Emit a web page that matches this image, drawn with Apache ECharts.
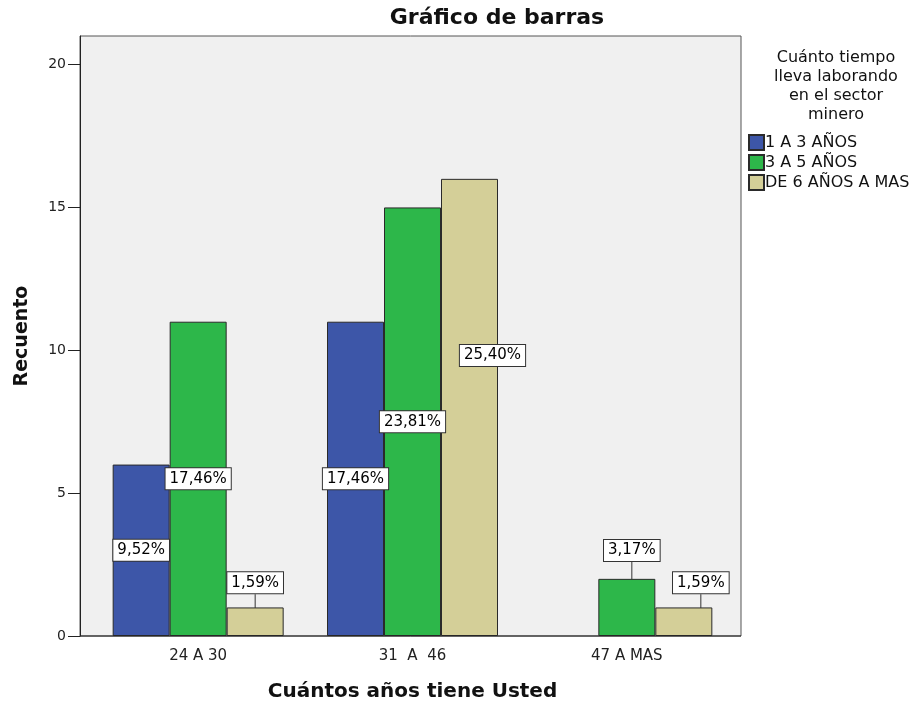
<!DOCTYPE html>
<html>
<head>
<meta charset="utf-8">
<script src="https://cdn.jsdelivr.net/npm/echarts@6/dist/echarts.min.js"></script>
<style>
  html, body { margin: 0; padding: 0; background: #fff; }
  #chart { width: 921px; height: 703px; }
</style>
</head>
<body>
<div id="chart"></div>
<script>
// categorias y valores
var categories = ['24 A 30', '31  A  46', '47 A MAS'];
var seriesNames = ['1 A 3 AÑOS', '3 A 5 AÑOS', 'DE 6 AÑOS A MAS'];
var counts1 = [6, 11, null];
var counts2 = [11, 15, 2];
var counts3 = [1, 16, 1];
var pct1 = ['9,52%', '17,46%', ''];
var pct2 = ['17,46%', '23,81%', '3,17%'];
var pct3 = ['1,59%', '25,40%', '1,59%'];
var yTicks = [0, 5, 10, 15, 20];

var colors = ['#3d56a8', '#2db74a', '#d4cf98'];
// desplazamiento de etiquetas (estilo, no datos)
var labelShift = [
  [[0, 0], [0, 0], [0, 0]],
  [[0, 0], [0, 0], [5, -57]],
  [[0, -39], [23, -52], [17, -39]]
];
var withLine = [[false, false, false], [false, false, true], [true, false, true]];

var font = 'DejaVu Sans, Arial, sans-serif';

var chartDom = document.getElementById('chart');
var myChart = echarts.init(chartDom);

function buildData(values, pcts, s) {
  return values.map(function (v, i) {
    return {
      value: v,
      pct: pcts[i],
      labelLine: { show: withLine[s][i], lineStyle: { color: '#333', width: 1 } }
    };
  });
}

function makeSeries(name, values, pcts, s) {
  return {
    name: name,
    type: 'bar',
    barWidth: 57,
    barGap: '0%',
    data: buildData(values, pcts, s),
    itemStyle: { color: colors[s], borderColor: '#2a2a2a', borderWidth: 1 },
    label: {
      show: true,
      position: 'inside',
      formatter: function (p) { return p.data.pct; },
      color: '#000',
      fontFamily: font,
      fontSize: 15,
      backgroundColor: '#fff',
      borderColor: '#333',
      borderWidth: 1,
      padding: [4, 4, 2, 4]
    },
    labelLayout: function (p) {
      var d = labelShift[s][p.dataIndex];
      return { dx: d[0], dy: d[1] };
    },
    emphasis: { disabled: true }
  };
}

var option = {
  animation: false,
  color: colors,
  title: [
    {
      text: 'Gráfico de barras',
      left: 492,
      top: 2,
      textAlign: 'center',
      textStyle: { fontFamily: font, fontSize: 22, fontWeight: 'bold', color: '#111' }
    },
    {
      text: 'Cuánto tiempo\nlleva laborando\nen el sector\nminero',
      left: 831,
      top: 43,
      textAlign: 'center',
      textStyle: { fontFamily: font, fontSize: 16, fontWeight: 'normal', color: '#111', lineHeight: 19 }
    }
  ],
  legend: {
    orient: 'vertical',
    left: 748,
    top: 134,
    padding: 0,
    itemWidth: 15,
    itemHeight: 15,
    itemGap: 3,
    icon: 'rect',
    selectedMode: false,
    data: seriesNames,
    textStyle: { fontFamily: font, fontSize: 16, color: '#111', padding: [0, 0, 0, -4] }
  },
  // marco del area de trazado
  graphic: [
    {
      type: 'rect',
      z: -10,
      shape: { x: 80, y: 36, width: 661, height: 600 },
      style: { fill: '#f0f0f0', stroke: '#555', lineWidth: 1 }
    },
    {
      type: 'line',
      z: 10,
      shape: { x1: 80, y1: 636, x2: 741, y2: 636 },
      style: { stroke: '#222', lineWidth: 1 }
    }
  ],
  grid: {
    left: 91,
    right: 187,
    top: 36,
    bottom: 67,
    outerBoundsMode: 'none',
    show: false
  },
  xAxis: {
    type: 'category',
    data: categories,
    name: 'Cuántos años tiene Usted',
    nameLocation: 'middle',
    nameGap: 46,
    nameTextStyle: { fontFamily: font, fontSize: 20, fontWeight: 'bold', color: '#111' },
    axisLine: { show: false },
    axisTick: { alignWithLabel: true, length: 9, lineStyle: { color: '#222' } },
    axisLabel: { fontFamily: font, fontSize: 15, color: '#222', margin: 13 }
  },
  yAxis: {
    type: 'value',
    min: 0,
    max: 21,
    interval: 5,
    offset: 11,
    name: 'Recuento',
    nameLocation: 'middle',
    nameGap: 48,
    nameTextStyle: { fontFamily: font, fontSize: 19, fontWeight: 'bold', color: '#111' },
    axisLine: { show: true, lineStyle: { color: '#222' } },
    axisTick: { show: true, length: 12, customValues: yTicks, lineStyle: { color: '#222' } },
    axisLabel: { fontFamily: font, fontSize: 14, color: '#222', margin: 14, customValues: yTicks },
    splitLine: { show: false }
  },
  series: [
    makeSeries(seriesNames[0], counts1, pct1, 0),
    makeSeries(seriesNames[1], counts2, pct2, 1),
    makeSeries(seriesNames[2], counts3, pct3, 2)
  ]
};
myChart.setOption(option);
</script>
</body>
</html>
